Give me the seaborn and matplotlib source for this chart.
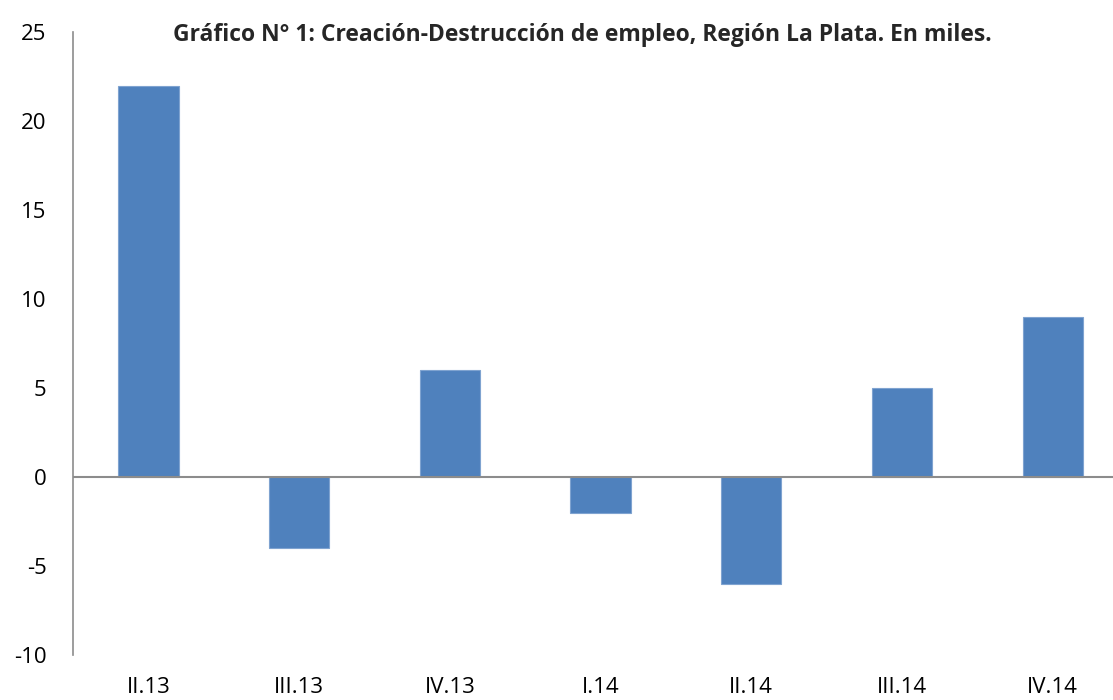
import matplotlib
matplotlib.use('Agg')
import matplotlib.pyplot as plt
import pandas as pd
import seaborn as sns

# Datos del gráfico
trimestres = ['II.13', 'III.13', 'IV.13', 'I.14', 'II.14', 'III.14', 'IV.14']
empleo = [22, -4, 6, -2, -6, 5, 9]
titulo = 'Gráfico N° 1: Creación-Destrucción de empleo, Región La Plata. En miles.'

df = pd.DataFrame({'Trimestre': trimestres, 'Empleo': empleo})

sns.set_style('white')
plt.rcParams['font.family'] = ['Open Sans', 'DejaVu Sans']
plt.rcParams['axes.unicode_minus'] = False

fig = plt.figure(figsize=(11.13, 7), dpi=100)
ax = fig.add_axes([0.0656, 0.0643, 0.9344, 0.8897])

sns.barplot(data=df, x='Trimestre', y='Empleo', color='#4F81BD',
            saturation=1, width=0.4, edgecolor='#7FA3D0', linewidth=0.8, ax=ax)

# Línea del cero
ax.axhline(0, color='#8C8C8C', linewidth=1.5, zorder=3)

ax.set_xlim(-0.5, 6.4)
ax.set_ylim(-10, 25)
ax.set_yticks(range(-10, 26, 5))

for s in ['top', 'right', 'bottom']:
    ax.spines[s].set_visible(False)
ax.spines['left'].set_color('#8C8C8C')
ax.spines['left'].set_linewidth(1.2)

ax.tick_params(axis='y', length=0, pad=19, labelsize=16, labelcolor='black')
ax.tick_params(axis='x', length=0, pad=16, labelsize=16, labelcolor='black')
ax.set_xlabel('')
ax.set_ylabel('')

ax.set_title(titulo, fontsize=16.5, fontweight='bold', pad=-6, x=0.49)

fig.savefig('out.png', dpi=100)
